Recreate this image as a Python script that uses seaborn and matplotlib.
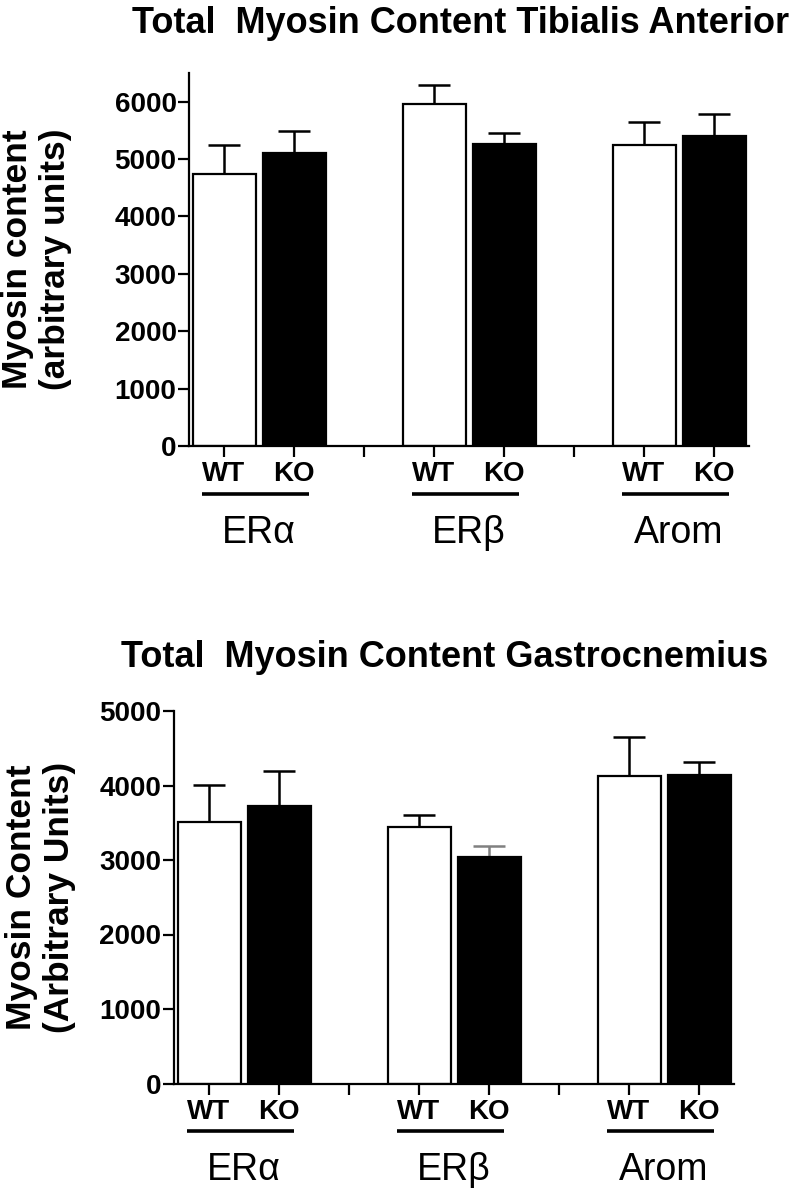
import numpy as np
import pandas as pd
import matplotlib
matplotlib.use("Agg")
import matplotlib.pyplot as plt
import matplotlib.transforms as mtransforms
import seaborn as sns

# layout of the categorical axis: two genotypes per group, empty slot between groups
groups = ["ERα", "ERβ", "Arom"]
genotypes = ["WT", "KO"]
slot_order = ["ERα WT", "ERα KO", "gap1", "ERβ WT", "ERβ KO", "gap2", "Arom WT", "Arom KO"]
tick_labels = ["WT", "KO", "", "WT", "KO", "", "WT", "KO"]

# Tibialis anterior: mean and SEM (arbitrary units), order WT/KO per group
ta_mean = [4740, 5105, 5965, 5260, 5250, 5400]
ta_sem = [500, 380, 325, 190, 390, 385]

# Gastrocnemius
gc_mean = [3510, 3720, 3440, 3040, 4130, 4135]
gc_sem = [495, 475, 160, 150, 525, 175]

sns.set_style("ticks")
plt.rcParams["font.family"] = ["Liberation Sans", "DejaVu Sans"]
plt.rcParams.update({
    "text.color": "black",
    "axes.labelcolor": "black",
    "xtick.color": "black",
    "ytick.color": "black",
    "axes.edgecolor": "black",
})

LW = 1.6


def draw_panel(fig, ax, means, sems, title, title_x, title_y, ylabel, label_x,
               ytop, yticks, err_colors):
    df = pd.DataFrame({
        "group": np.repeat(groups, len(genotypes)),
        "genotype": genotypes * len(groups),
        "value": means,
        "sem": sems,
    })
    df["slot"] = df["group"] + " " + df["genotype"]

    sns.barplot(data=df, x="slot", y="value", hue="genotype", order=slot_order,
                hue_order=genotypes, palette={"WT": "white", "KO": "black"},
                dodge=False, width=0.9, saturation=1, edgecolor="black",
                linewidth=LW, errorbar=None, legend=False, ax=ax)

    # upper error bars only (drawn behind the bars so the lower cap is hidden)
    for slot, y, e, c in zip(df["slot"], df["value"], df["sem"], err_colors):
        x = slot_order.index(slot)
        ax.errorbar(x, y, yerr=[[0], [e]], fmt="none", ecolor=c,
                    elinewidth=LW + 0.2, capsize=11.5, capthick=LW + 0.2, zorder=0.9)

    ax.set_xlim(-0.5, 7.5)
    ax.set_ylim(0, ytop)
    ax.set_yticks(yticks)
    ax.set_yticklabels([str(v) for v in yticks], fontsize=20, fontweight="bold")
    ax.set_xticks(range(len(slot_order)))
    ax.set_xticklabels(tick_labels, fontsize=20, fontweight="bold")
    ax.set_xlabel("")
    ax.tick_params(axis="both", length=8, width=LW, color="black")
    ax.tick_params(axis="x", pad=3)
    ax.tick_params(axis="y", pad=1)
    sns.despine(ax=ax)
    for side in ("left", "bottom"):
        ax.spines[side].set_linewidth(LW)
        ax.spines[side].set_color("black")

    ax.set_ylabel(ylabel, fontsize=25.5, fontweight="bold", linespacing=1.2)
    ax.yaxis.set_label_coords(label_x, 0.5)
    ax.yaxis.label.set_va("center")

    # genotype underline and group name beneath each pair
    trans = mtransforms.blended_transform_factory(ax.transData, ax.transAxes)
    for i, name in enumerate(groups):
        start = i * 3
        ax.plot([start - 0.31, start + 1.21], [-0.128, -0.128], transform=trans,
                color="black", lw=2.6, clip_on=False, solid_capstyle="butt")
        ax.text(start + 0.5, -0.26, name, transform=trans, ha="center",
                va="baseline", fontsize=27)

    fig.text(title_x, title_y, title, ha="center", va="baseline",
             fontsize=26, fontweight="bold")


fig = plt.figure(figsize=(7.96, 11.88), dpi=100)
ax_top = fig.add_axes([189 / 796, 1 - 446 / 1188, 560 / 796, 373 / 1188])
ax_bot = fig.add_axes([174 / 796, 1 - 1083.5 / 1188, 560 / 796, 372.5 / 1188])

draw_panel(fig, ax_top, ta_mean, ta_sem,
           "Total  Myosin Content Tibialis Anterior", 461 / 796, 1 - 33 / 1188,
           "Myosin content\n(arbitrary units)", -0.272,
           6500, list(range(0, 6001, 1000)), ["black"] * 6)

draw_panel(fig, ax_bot, gc_mean, gc_sem,
           "Total  Myosin Content Gastrocnemius", 445 / 796, 1 - 667 / 1188,
           "Myosin Content\n(Arbitrary Units)", -0.238,
           5000, list(range(0, 5001, 1000)),
           ["black", "black", "black", "#808080", "black", "black"])

fig.savefig("out.png", dpi=100, facecolor="white")
